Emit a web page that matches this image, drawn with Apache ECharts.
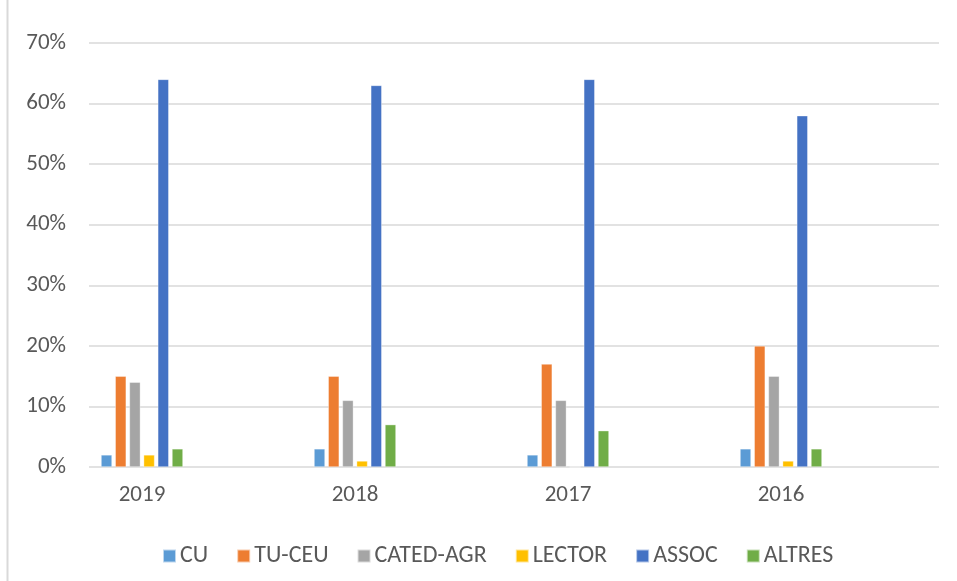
<!DOCTYPE html>
<html>
<head>
<meta charset="utf-8">
<script src="https://cdn.jsdelivr.net/npm/echarts@6/dist/echarts.min.js"></script>
<style>
html,body{margin:0;padding:0;background:#fff;}
#chart{width:957px;height:581px;}
</style>
</head>
<body>
<div id="chart"></div>
<script>
var categories = ['2019', '2018', '2017', '2016'];
var seriesNames = ['CU', 'TU-CEU', 'CATED-AGR', 'LECTOR', 'ASSOC', 'ALTRES'];
var CU = [2, 3, 2, 3];
var TU_CEU = [15, 15, 17, 20];
var CATED_AGR = [14, 11, 11, 15];
var LECTOR = [2, 1, 0, 1];
var ASSOC = [64, 63, 64, 58];
var ALTRES = [3, 7, 6, 3];
var yTicks = [0, 10, 20, 30, 40, 50, 60, 70];
var colors = ['#5B9BD5', '#ED7D31', '#A5A5A5', '#FFC000', '#4472C4', '#70AD47'];

var values = [CU, TU_CEU, CATED_AGR, LECTOR, ASSOC, ALTRES];
var FONT = 'Carlito, Lato, "Liberation Sans", sans-serif';
var chart = echarts.init(document.getElementById('chart'), null, {renderer: 'canvas'});

var series = seriesNames.map(function (n, i) {
  return {
    name: n,
    type: 'bar',
    xAxisIndex: 1,
    yAxisIndex: 1,
    data: values[i],
    barWidth: 11,
    barGap: '29%',
    itemStyle: {color: colors[i], borderColor: 'rgba(255,255,255,0.6)', borderWidth: 0.6},
    emphasis: {disabled: true}
  };
});

chart.setOption({
  animation: false,
  textStyle: {fontFamily: FONT},
  graphic: [{
    type: 'line',
    shape: {x1: 7.5, y1: 0, x2: 7.5, y2: 581},
    style: {stroke: '#d9d9d9', lineWidth: 2},
    silent: true
  }],
  legend: {
    data: seriesNames,
    left: 157,
    top: 539,
    itemWidth: 13,
    itemHeight: 13,
    itemGap: 28,
    icon: 'rect',
    textStyle: {color: '#595959', fontSize: 24, fontFamily: FONT, padding: [0, 0, 0, -1]}
  },
  grid: [
    {left: 89, right: 18, top: 43, bottom: 114},
    {left: 35.5, width: 852, top: 43, bottom: 114}
  ],
  xAxis: [
    {
      type: 'value', gridIndex: 0, min: 0, max: 1, show: false
    },
    {
      type: 'category', gridIndex: 1, data: categories,
      axisLine: {show: false}, axisTick: {show: false},
      axisLabel: {color: '#595959', fontSize: 23, fontFamily: FONT, margin: 17},
      splitLine: {show: false}
    }
  ],
  yAxis: [
    {
      type: 'value', gridIndex: 0, min: yTicks[0], max: yTicks[yTicks.length - 1], interval: 10,
      axisLine: {show: false}, axisTick: {show: false},
      axisLabel: {color: '#595959', fontSize: 23, fontFamily: FONT, margin: 23, formatter: '{value}%'},
      splitLine: {lineStyle: {color: '#d9d9d9', width: 1.5}}
    },
    {
      type: 'value', gridIndex: 1, min: yTicks[0], max: yTicks[yTicks.length - 1], interval: 10,
      show: false, splitLine: {show: false}
    }
  ],
  series: series
});
</script>
</body>
</html>
